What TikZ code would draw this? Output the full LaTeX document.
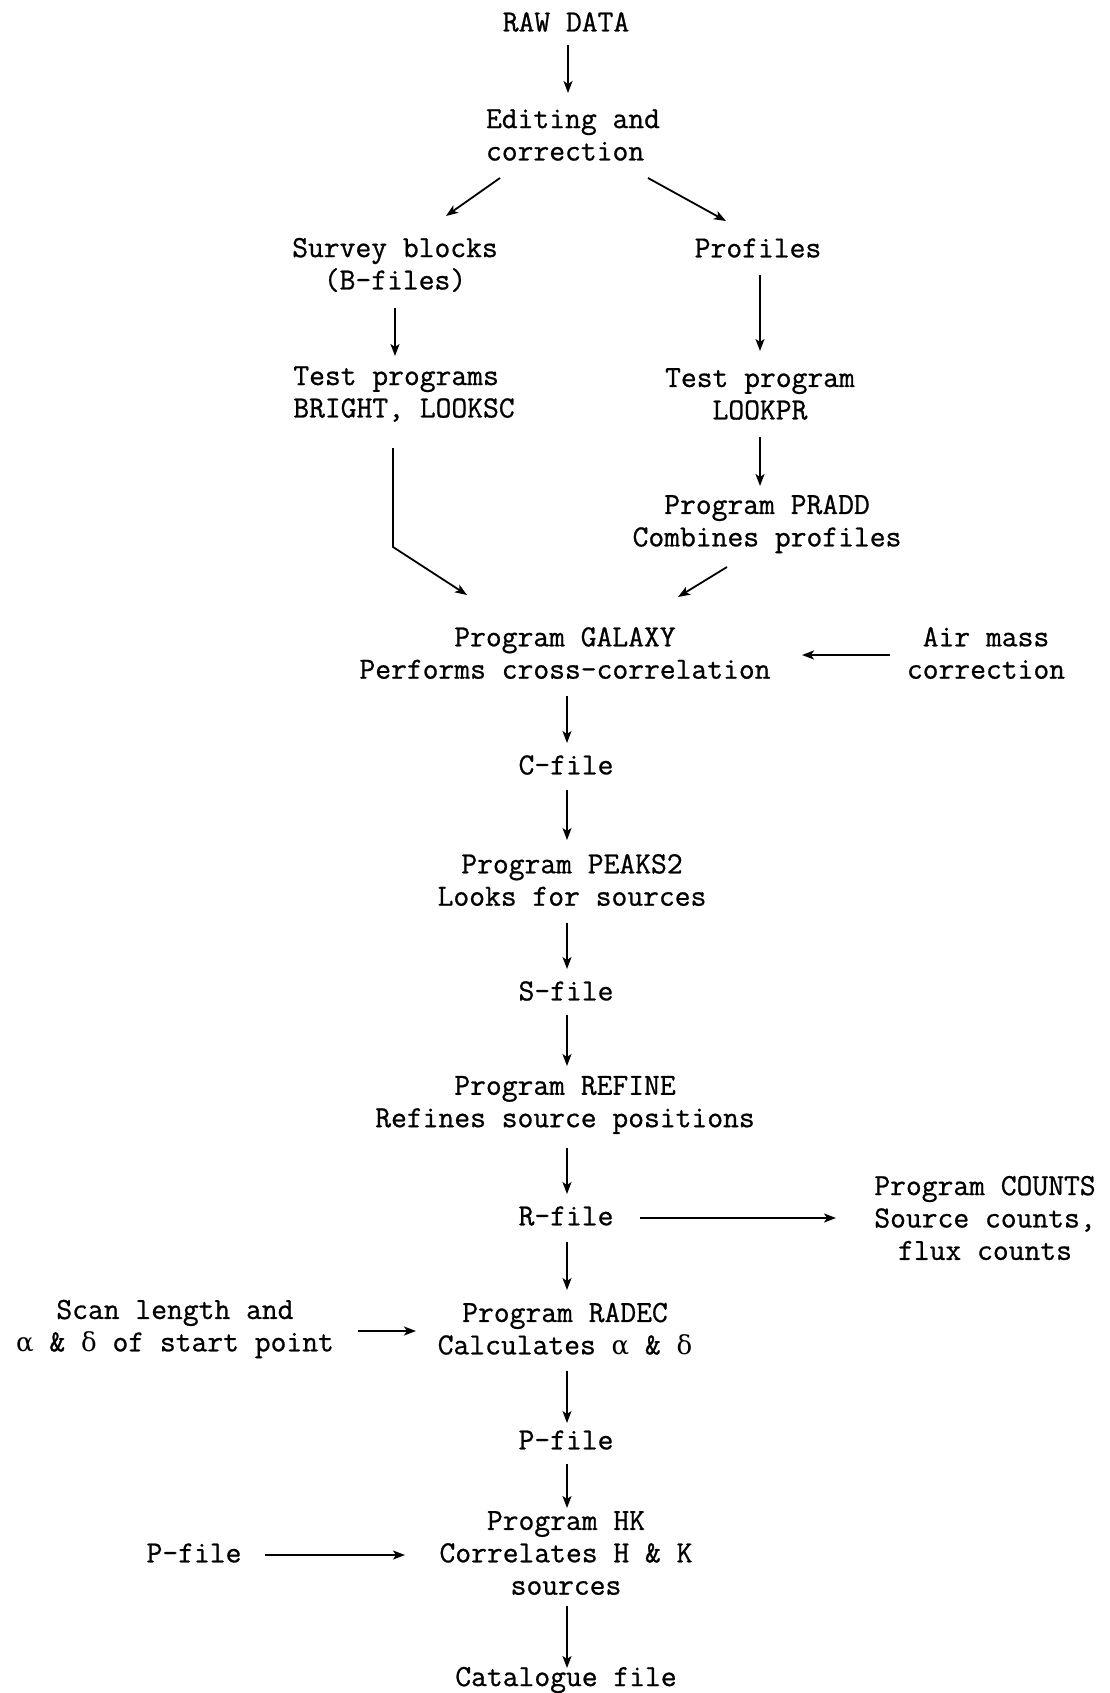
\documentclass[tikz,border=0pt]{standalone}
\usepackage{fontspec}
\setmonofont{Latin Modern Mono}[FakeBold=0.8]
\newfontfamily\grkfont{DejaVu Serif}
\newcommand{\galpha}{{\grkfont\fontsize{26}{32.4}\selectfont α}}
\newcommand{\gdelta}{{\grkfont\fontsize{26}{32.4}\selectfont δ}}
\usetikzlibrary{arrows.meta}
\begin{document}
\begin{tikzpicture}[x=1pt,y=-1pt,
  lbl/.style={inner sep=0pt, align=center, font=\fontsize{30.7}{32.4}\selectfont\ttfamily},
  lbll/.style={lbl, align=left},
  arr/.style={line width=1.8pt, -{Stealth[length=12pt,width=9pt,inset=3pt]}}]
\useasboundingbox[fill=white] (0,0) rectangle (1109,1693);
% nodes
\node[lbl]  (raw)    at (566,22)   {RAW DATA};
\node[lbll] (edit)   at (573,135)  {Editing and\\correction};
\node[lbl]  (survey) at (395,265)  {Survey blocks\\(B-files)};
\node[lbl]  (prof)   at (758,248)  {Profiles};
\node[lbll] (testl)  at (404,394)  {Test programs\\BRIGHT, LOOKSC};
\node[lbl]  (testr)  at (760,394)  {Test program\\LOOKPR};
\node[lbl]  (pradd)  at (767,524)  {Program PRADD\\Combines profiles};
\node[lbl]  (galaxy) at (565,653)  {Program GALAXY\\Performs cross-correlation};
\node[lbl]  (air)    at (986,653)  {Air mass\\correction};
\node[lbl]  (cfile)  at (566,765)  {C-file};
\node[lbl]  (peaks)  at (572,880)  {Program PEAKS2\\Looks for sources};
\node[lbl]  (sfile)  at (566,991)  {S-file};
\node[lbl]  (refine) at (565,1105) {Program REFINE\\Refines source positions};
\node[lbl]  (rfile)  at (566,1216) {R-file};
\node[lbl]  (counts) at (985,1218) {Program COUNTS\\Source counts,\\flux counts};
\node[lbl]  (radec)  at (565,1329) {Program RADEC\\Calculates \galpha{} \& \gdelta};
\node[lbl]  (scan)   at (175,1329) {Scan length and\\\galpha{} \& \gdelta{} of start point};
\node[lbl]  (pfile)  at (566,1440) {P-file};
\node[lbl]  (hk)     at (566,1553) {Program HK\\Correlates H \& K\\sources};
\node[lbl]  (pleft)  at (194,1553) {P-file};
\node[lbl]  (cat)    at (566,1680) {Catalogue file};
% connectors
\draw[arr] ([shift={(2,23)}]raw.center) -- ([shift={(-5,-42)}]edit.center);
\draw[arr] ([shift={(-73,43)}]edit.center) -- ([shift={(51,-49)}]survey.center);
\draw[arr] ([shift={(75,43)}]edit.center) -- ([shift={(-32,-27)}]prof.center);
\draw[arr] ([shift={(0,43)}]survey.center) -- ([shift={(-9,-38)}]testl.center);
\draw[arr] ([shift={(2,27)}]prof.center) -- ([shift={(0,-43)}]testr.center);
\draw[arr] ([shift={(0,43)}]testr.center) -- ([shift={(-7,-38)}]pradd.center);
\draw[arr] ([shift={(-11,54)}]testl.center) -- ([shift={(-11,153)}]testl.center) -- ([shift={(-98,-58)}]galaxy.center);
\draw[arr] ([shift={(-40,43)}]pradd.center) -- ([shift={(113,-56)}]galaxy.center);
\draw[arr] ([shift={(-96,2)}]air.center) -- ([shift={(237,2)}]galaxy.center);
\draw[arr] ([shift={(2,43)}]galaxy.center) -- ([shift={(1,-22)}]cfile.center);
\draw[arr] ([shift={(1,25)}]cfile.center) -- ([shift={(-5,-40)}]peaks.center);
\draw[arr] ([shift={(-5,43)}]peaks.center) -- ([shift={(1,-22)}]sfile.center);
\draw[arr] ([shift={(1,24)}]sfile.center) -- ([shift={(2,-39)}]refine.center);
\draw[arr] ([shift={(2,43)}]refine.center) -- ([shift={(1,-22)}]rfile.center);
\draw[arr] ([shift={(74,2)}]rfile.center) -- ([shift={(-149,0)}]counts.center);
\draw[arr] ([shift={(1,26)}]rfile.center) -- ([shift={(2,-39)}]radec.center);
\draw[arr] ([shift={(183,2)}]scan.center) -- ([shift={(-149,2)}]radec.center);
\draw[arr] ([shift={(2,42)}]radec.center) -- ([shift={(1,-17)}]pfile.center);
\draw[arr] ([shift={(1,24)}]pfile.center) -- ([shift={(1,-45)}]hk.center);
\draw[arr] ([shift={(71,2)}]pleft.center) -- ([shift={(-161,2)}]hk.center);
\draw[arr] ([shift={(1,53)}]hk.center) -- ([shift={(1,-12)}]cat.center);
\end{tikzpicture}
\end{document}
